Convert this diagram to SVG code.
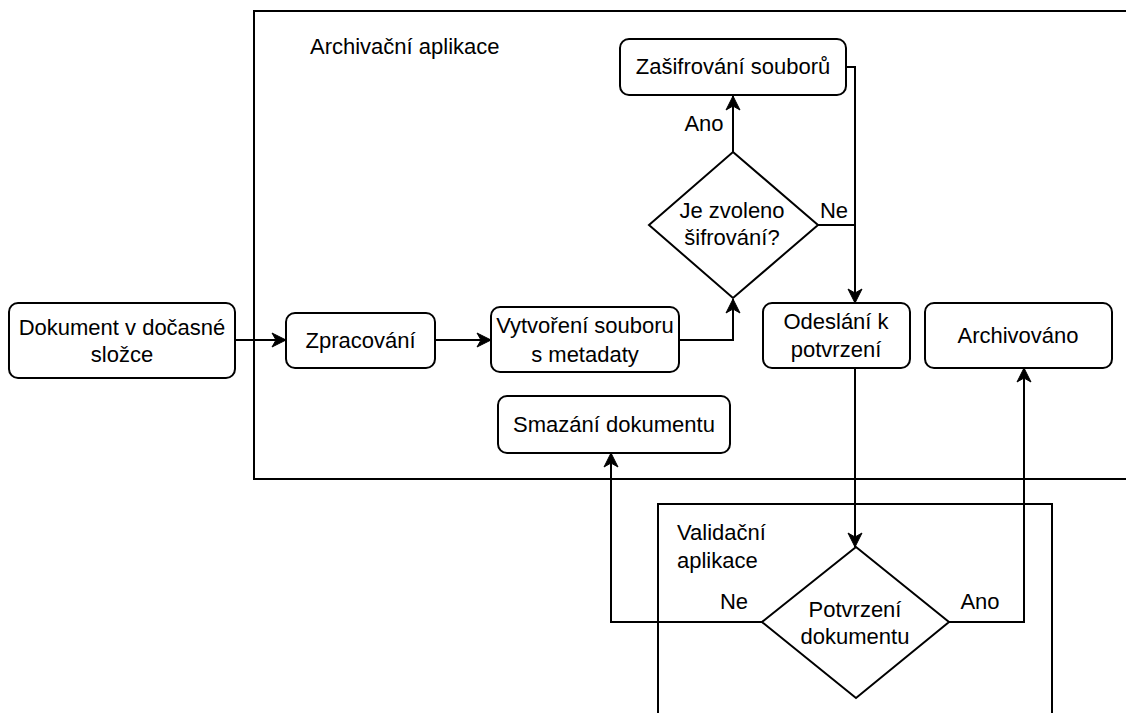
<svg xmlns="http://www.w3.org/2000/svg" width="1126" height="713" viewBox="0 0 1126 713">
<style>
.box{fill:#fff;stroke:#000;stroke-width:2}
.cont{fill:none;stroke:#000;stroke-width:2}
.ln{fill:none;stroke:#000;stroke-width:2}
text{font-family:"Liberation Sans",Arial,sans-serif;font-size:22px;fill:#000}
.c{text-anchor:middle}
</style>
<defs>
<marker id="arr" markerUnits="userSpaceOnUse" markerWidth="16" markerHeight="16" viewBox="-15 -8 16 16" refX="0" refY="0" orient="auto">
<path d="M0,0 L-14,-7 L-10,0 L-14,7 Z" fill="#000" stroke="#000" stroke-width="1"/>
</marker>
</defs>
<g id="archivacni-aplikace">
<rect class="cont" x="254" y="11" width="900" height="468"/>
<text x="310" y="54">Archivační aplikace</text>
</g>
<g id="validacni-aplikace">
<rect class="cont" x="658" y="504" width="394" height="240"/>
<text x="677" y="540">Validační</text>
<text x="677" y="568">aplikace</text>
</g>
<g id="connectors">
<path class="ln" d="M235,340 L286,340" marker-end="url(#arr)"/>
<path class="ln" d="M435,340 L491,340" marker-end="url(#arr)"/>
<path class="ln" d="M679,340 L733,340 L733,299" marker-end="url(#arr)"/>
<path class="ln" d="M733,152 L733,96" marker-end="url(#arr)"/>
<path class="ln" d="M846,67 L855,67 L855,303" marker-end="url(#arr)"/>
<path class="ln" d="M818,225 L855,225"/>
<path class="ln" d="M855,368 L855,547" marker-end="url(#arr)"/>
<path class="ln" d="M762,622 L611,622 L611,453" marker-end="url(#arr)"/>
<path class="ln" d="M949,622 L1024,622 L1024,368" marker-end="url(#arr)"/>
<text class="c" x="704" y="131">Ano</text>
<text class="c" x="834" y="218">Ne</text>
<text class="c" x="734" y="609">Ne</text>
<text class="c" x="980" y="609">Ano</text>
</g>
<g id="dokument">
<rect class="box" x="9" y="303" width="226" height="75" rx="9"/>
<text class="c" x="122" y="335">Dokument v dočasné</text>
<text class="c" x="122" y="362">složce</text>
</g>
<g id="zpracovani">
<rect class="box" x="286" y="313" width="149" height="55" rx="9"/>
<text class="c" x="360.5" y="348">Zpracování</text>
</g>
<g id="vytvoreni">
<rect class="box" x="491" y="307" width="188" height="65" rx="9"/>
<text class="c" x="585" y="333">Vytvoření souboru</text>
<text class="c" x="585" y="362">s metadaty</text>
</g>
<g id="je-zvoleno">
<path class="box" d="M733,152 L818,225 L733,298 L649,225 Z"/>
<text class="c" x="732" y="218">Je zvoleno</text>
<text class="c" x="732" y="245">šifrování?</text>
</g>
<g id="zasifrovani">
<rect class="box" x="620" y="39" width="226" height="56" rx="9"/>
<text class="c" x="733" y="74">Zašifrování souborů</text>
</g>
<g id="odeslani">
<rect class="box" x="763" y="303" width="147" height="65" rx="9"/>
<text class="c" x="836" y="329">Odeslání k</text>
<text class="c" x="836" y="357">potvrzení</text>
</g>
<g id="archivovano">
<rect class="box" x="925" y="303" width="187" height="65" rx="9"/>
<text class="c" x="1018" y="343">Archivováno</text>
</g>
<g id="smazani">
<rect class="box" x="498" y="396" width="232" height="57" rx="9"/>
<text class="c" x="614" y="432">Smazání dokumentu</text>
</g>
<g id="potvrzeni">
<path class="box" d="M856,547 L949,622 L856,698 L762,622 Z"/>
<text class="c" x="855" y="617">Potvrzení</text>
<text class="c" x="855" y="644">dokumentu</text>
</g>
</svg>
